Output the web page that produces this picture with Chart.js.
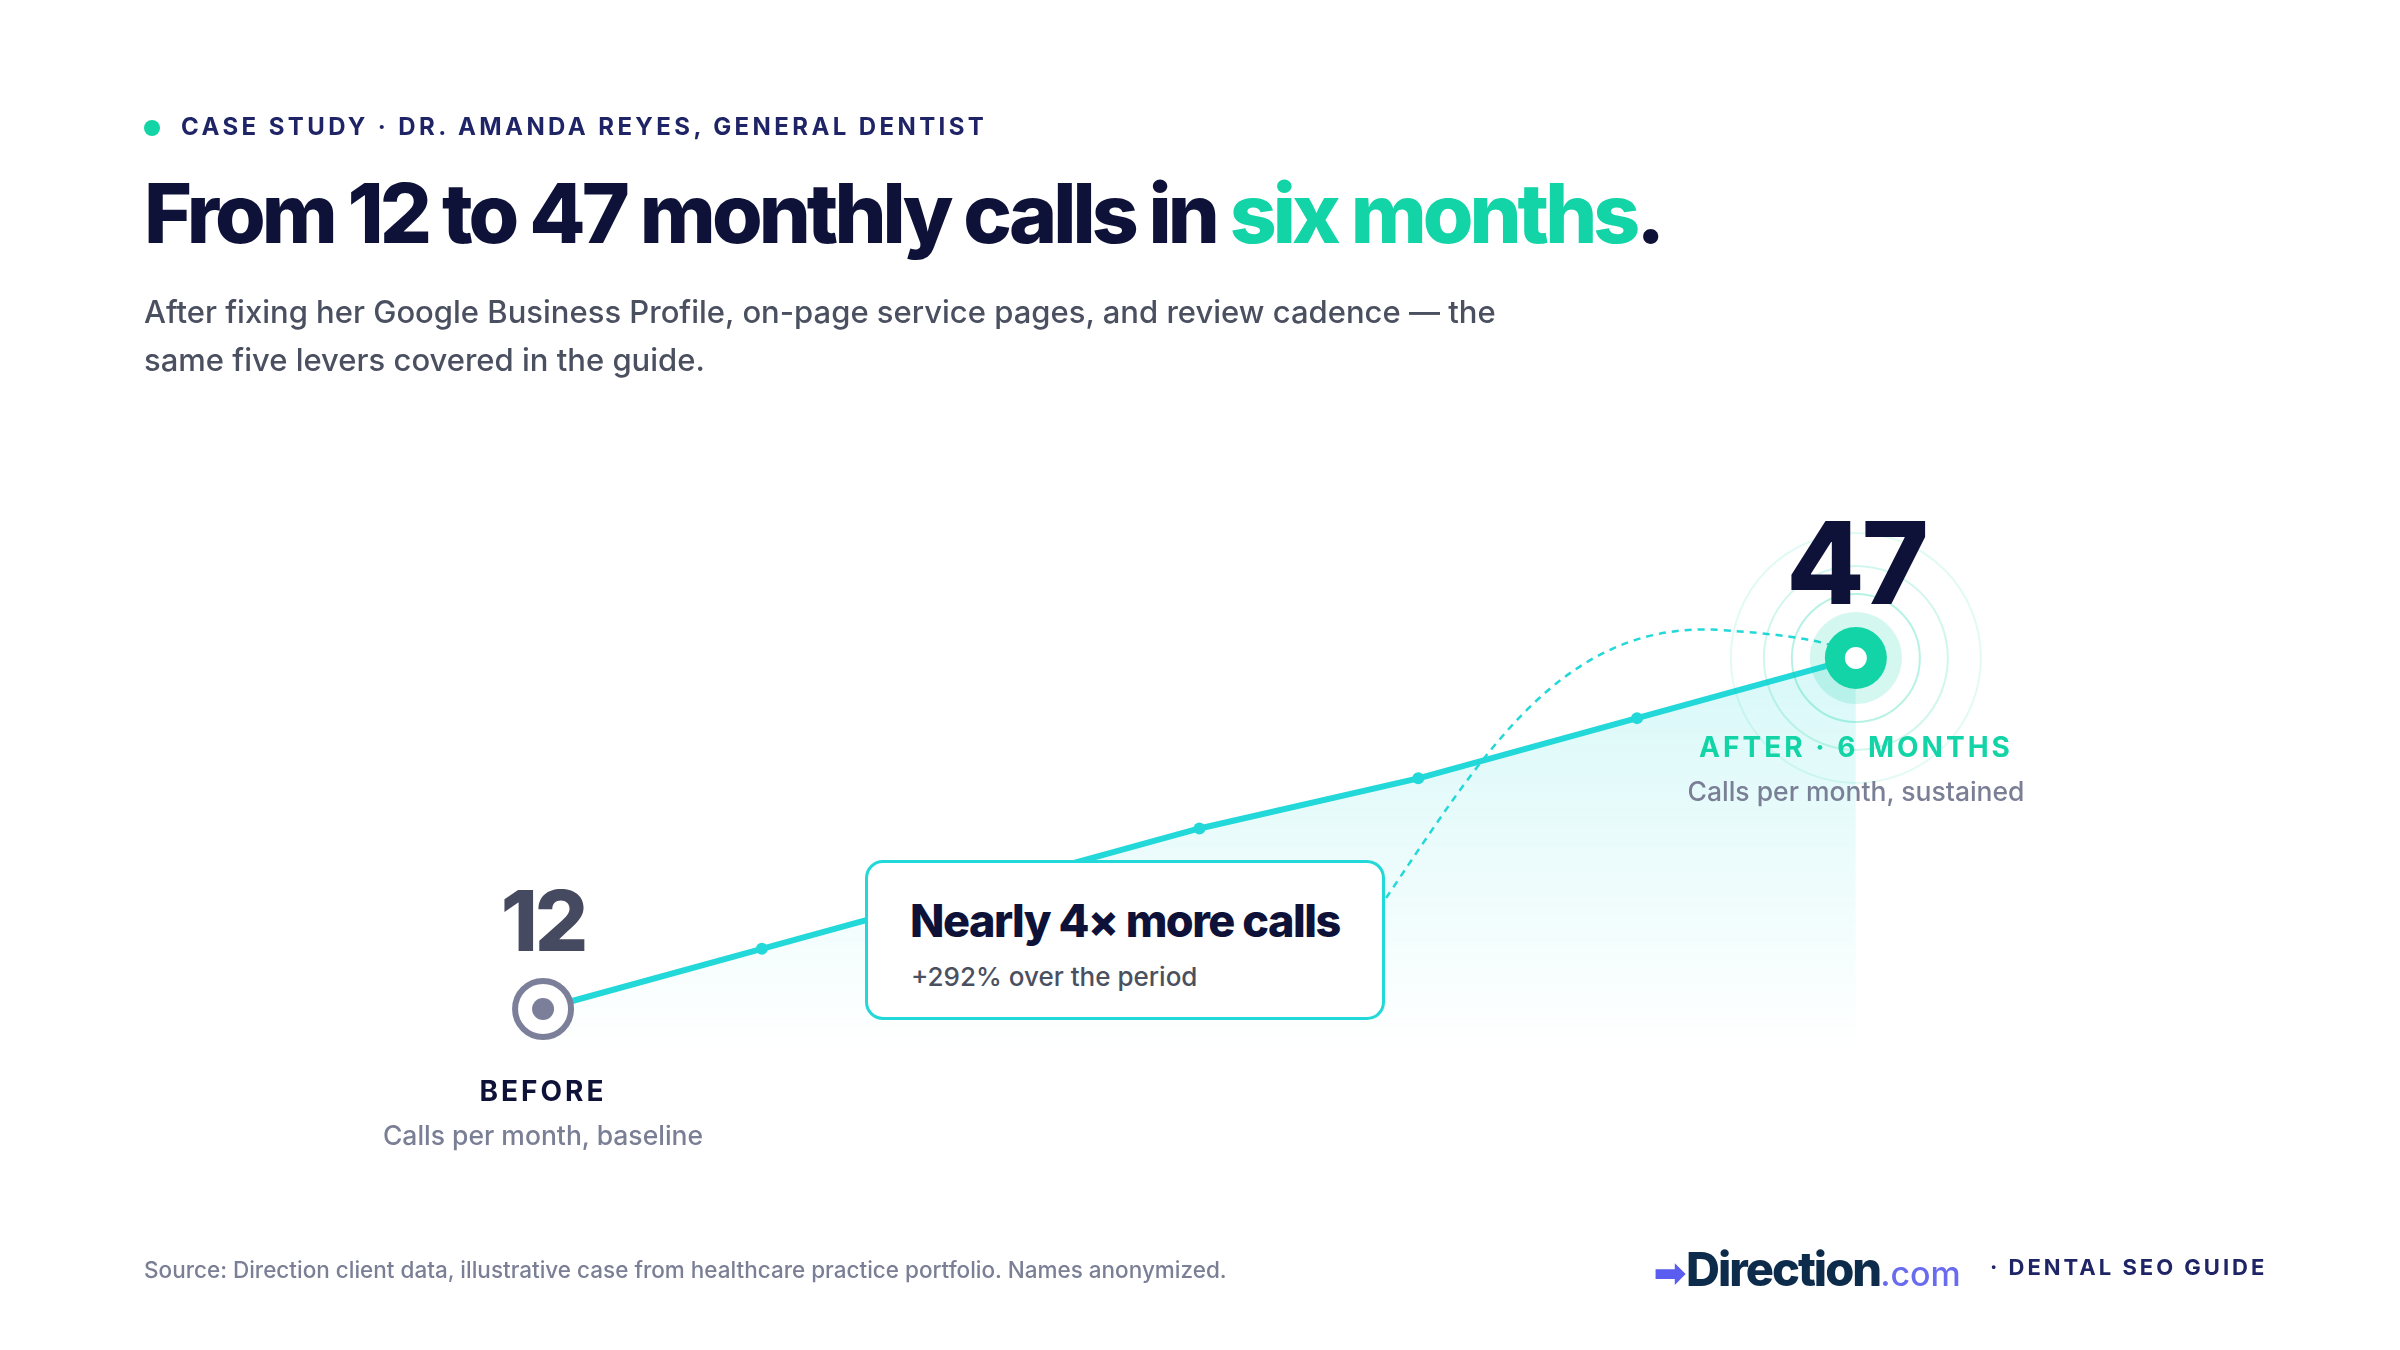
<!DOCTYPE html>
<html>
<head>
<meta charset="utf-8">
<script src="https://cdn.jsdelivr.net/npm/chart.js@4"></script>
<style>
  html, body { margin: 0; padding: 0; background: #fff; }
  body { width: 2400px; height: 1350px; position: relative; overflow: hidden; font-family: Inter, "Noto Sans", sans-serif; }
  #chartWrap { position: absolute; left: 0; top: 0; width: 2400px; height: 1350px; }
  #callsChart { width: 2400px; height: 1350px; display: block; }
  .abs { position: absolute; white-space: nowrap; }
  .eyebrow { left: 181px; top: 112px; font-size: 24px; font-weight: 700; letter-spacing: 3.4px; color: #1f2466; }
  .dot { left: 144px; top: 120px; width: 16px; height: 16px; border-radius: 50%; background: #12d4a6; }
  h1 { position: absolute; left: 144px; top: 164px; margin: 0; font-size: 82px; font-weight: 800; letter-spacing: -4px; color: #0f1238; }
  h1 .hl { color: #12d4a6; }
  .sub { left: 144px; top: 288px; font-size: 31px; line-height: 48px; color: #4b5060; white-space: normal; width: 1420px; font-weight: 500; }
  .big { transform: translateX(-50%); font-weight: 800; letter-spacing: -3px; }
  .lbl { transform: translateX(-50%); font-size: 28px; font-weight: 700; letter-spacing: 3px; }
  .cap { transform: translateX(-50%); font-size: 26.5px; color: #7a7f95; font-weight: 500; }
  .box { left: 865px; top: 860px; width: 520px; height: 160px; box-sizing: border-box; background: #fff; border: 3px solid #22d8d8; border-radius: 18px; }
  .box .t { position: absolute; left: 42px; top: 30px; font-size: 45px; font-weight: 800; letter-spacing: -1.5px; color: #0f1238; }
  .box .s { position: absolute; left: 43px; top: 98px; font-size: 26px; font-weight: 500; color: #4b5060; }
  .source { left: 144px; top: 1256px; font-size: 22.5px; color: #7a7f95; font-weight: 500; }
  .logo { left: 1654px; top: 1240px; font-size: 47px; font-weight: 800; color: #0d2b4a; letter-spacing: -2px; }
  .logo .com { font-size: 34px; font-weight: 500; letter-spacing: 0; color: #6a6cf0; }
  .logo .arr { color: #5b5cf0; font-size: 38px; letter-spacing: 0; }
  .guide { left: 1990px; top: 1254px; font-size: 22px; font-weight: 700; letter-spacing: 3px; color: #1f2466; }
</style>
</head>
<body>
<div id="chartWrap"><canvas id="callsChart" width="2400" height="1350"></canvas></div>

<div class="abs dot"></div>
<div class="abs eyebrow">CASE STUDY · DR. AMANDA REYES, GENERAL DENTIST</div>
<h1>From 12 to 47 monthly calls in <span class="hl">six months</span>.</h1>
<div class="abs sub">After fixing her Google Business Profile, on-page service pages, and review cadence — the same five levers covered in the guide.</div>

<div class="abs big" style="left:543px;top:870px;font-size:84px;color:#454a60;">12</div>
<div class="abs big" style="left:1856px;top:494px;font-size:114px;color:#0f1238;">47</div>
<div class="abs lbl" style="left:543px;top:1074px;color:#0f1238;">BEFORE</div>
<div class="abs cap" style="left:543px;top:1119px;">Calls per month, baseline</div>
<div class="abs lbl" style="left:1856px;top:730px;color:#12d4a6;">AFTER · 6 MONTHS</div>
<div class="abs cap" style="left:1856px;top:775px;">Calls per month, sustained</div>

<div class="abs box">
  <div class="t">Nearly 4× more calls</div>
  <div class="s">+292% over the period</div>
</div>

<div class="abs source">Source: Direction client data, illustrative case from healthcare practice portfolio. Names anonymized.</div>
<div class="abs logo"><span class="arr">➡</span>Direction<span class="com">.com</span></div>
<div class="abs guide">· DENTAL SEO GUIDE</div>

<script>
const months = [0, 1, 2, 3, 4, 5, 6];
const calls = [12, 18, 24, 30, 35, 41, 47];
const boxCorner = { x: 1386, y: 898 }; // top-right of callout, where the dashed arc starts

const teal = '#22d8d8';
const green = '#12d4a6';

const markers = {
  id: 'markers',
  afterDatasetsDraw(chart) {
    const ctx = chart.ctx;
    const meta = chart.getDatasetMeta(0).data;
    const first = meta[0], last = meta[meta.length - 1];

    // dashed arc from callout to the final point
    ctx.save();
    ctx.strokeStyle = teal;
    ctx.lineWidth = 2.5;
    ctx.setLineDash([7, 6]);
    ctx.beginPath();
    ctx.moveTo(boxCorner.x, boxCorner.y);
    ctx.bezierCurveTo(1480, 760, 1560, 620, 1720, 630);
    ctx.quadraticCurveTo(1800, 635, last.x - 22, last.y - 12);
    ctx.stroke();
    ctx.restore();

    // before marker
    ctx.save();
    ctx.beginPath();
    ctx.arc(first.x, first.y, 28, 0, Math.PI * 2);
    ctx.fillStyle = '#fff';
    ctx.fill();
    ctx.lineWidth = 6;
    ctx.strokeStyle = '#7c7f9a';
    ctx.stroke();
    ctx.beginPath();
    ctx.arc(first.x, first.y, 11, 0, Math.PI * 2);
    ctx.fillStyle = '#7c7f9a';
    ctx.fill();

    // after marker with halo rings
    [[125, 'rgba(18,212,166,0.12)'], [92, 'rgba(18,212,166,0.2)'], [64, 'rgba(18,212,166,0.3)']].forEach(([r, c]) => {
      ctx.beginPath();
      ctx.arc(last.x, last.y, r, 0, Math.PI * 2);
      ctx.strokeStyle = c;
      ctx.lineWidth = 2;
      ctx.stroke();
    });
    ctx.beginPath();
    ctx.arc(last.x, last.y, 46, 0, Math.PI * 2);
    ctx.fillStyle = 'rgba(18,212,166,0.18)';
    ctx.fill();
    ctx.beginPath();
    ctx.arc(last.x, last.y, 31, 0, Math.PI * 2);
    ctx.fillStyle = green;
    ctx.fill();
    ctx.beginPath();
    ctx.arc(last.x, last.y, 11, 0, Math.PI * 2);
    ctx.fillStyle = '#fff';
    ctx.fill();
    ctx.restore();
  }
};

const ctx = document.getElementById('callsChart').getContext('2d');
const grad = ctx.createLinearGradient(0, 650, 0, 1050);
grad.addColorStop(0, 'rgba(34,216,216,0.18)');
grad.addColorStop(1, 'rgba(34,216,216,0)');

new Chart(ctx, {
  type: 'line',
  data: {
    datasets: [{
      data: months.map((m, i) => ({ x: m, y: calls[i] })),
      borderColor: teal,
      borderWidth: 6,
      backgroundColor: grad,
      fill: { value: 7.9 },
      tension: 0,
      pointRadius: months.map((m, i) => (i === 0 || i === months.length - 1) ? 0 : 6),
      pointBackgroundColor: teal,
      pointBorderWidth: 0
    }]
  },
  options: {
    responsive: false,
    animation: false,
    devicePixelRatio: 1,
    layout: { padding: 0 },
    plugins: { legend: { display: false }, tooltip: { enabled: false } },
    scales: {
      x: { type: 'linear', display: false, min: -2.482, max: 8.487 },
      y: { display: false, min: -22.0, max: 112.6 }
    }
  },
  plugins: [markers]
});
</script>
</body>
</html>
